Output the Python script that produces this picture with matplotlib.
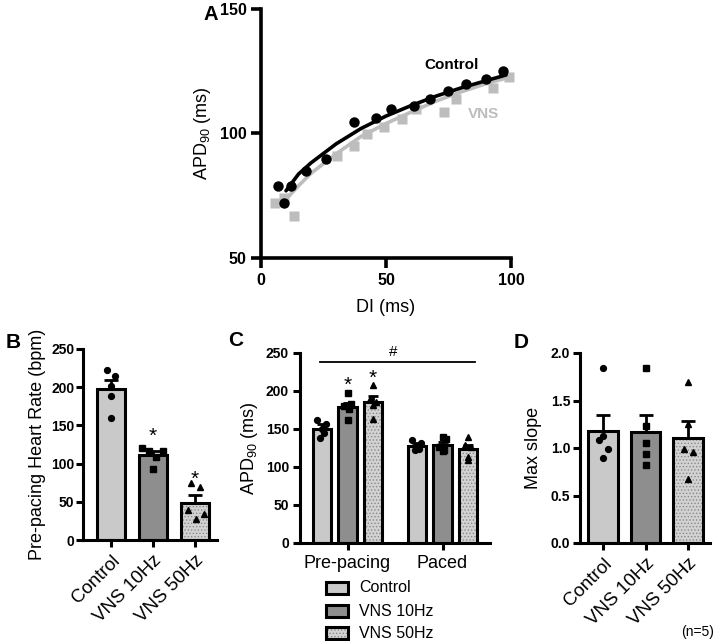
import matplotlib
matplotlib.use("Agg")
import matplotlib.pyplot as plt
from matplotlib.patches import Rectangle
import numpy as np

plt.rcParams['font.family'] = ['Liberation Sans', 'DejaVu Sans']
plt.rcParams['mathtext.fontset'] = 'custom'
plt.rcParams['mathtext.rm'] = 'Liberation Sans'
plt.rcParams['mathtext.it'] = 'Liberation Sans:italic'
plt.rcParams['mathtext.bf'] = 'Liberation Sans:bold'
plt.rcParams['hatch.linewidth'] = 0.6

# ---------------- Data ----------------
# Panel A: restitution
ctrl_di = [6.9, 9.1, 11.9, 18.0, 26.0, 37.1, 45.9, 51.9, 61.1, 67.7, 74.9, 81.9, 89.9, 96.8]
ctrl_apd = [78.8, 72.1, 78.8, 84.9, 89.6, 104.7, 106.1, 110.0, 110.9, 113.9, 116.9, 119.9, 121.9, 124.9]
vns_di = [5.7, 9.1, 13.3, 30.3, 37.1, 42.3, 49.2, 56.2, 62.1, 73.0, 77.9, 92.8, 99.0]
vns_apd = [72.0, 74.1, 66.9, 91.0, 94.9, 99.7, 102.8, 106.0, 109.7, 108.7, 113.7, 118.4, 122.7]
ctrl_fit_di = [10, 15, 20, 30, 40, 50, 60, 70, 80, 90, 98]
ctrl_fit_apd = [77.0, 83.7, 88.2, 95.8, 102.0, 107.0, 111.2, 115.0, 118.3, 121.2, 123.5]
vns_fit_di = [9, 15, 20, 30, 40, 50, 60, 70, 80, 90, 100]
vns_fit_apd = [72.5, 79.0, 84.0, 91.8, 98.8, 104.0, 108.6, 113.0, 116.7, 120.0, 122.8]

groups = ['Control', 'VNS 10Hz', 'VNS 50Hz']

# Panel B: pre-pacing heart rate
hr_mean = [197, 111, 49]
hr_sem = [12, 6, 10]
hr_pts = [[222, 215, 201, 189, 160],
          [120, 117, 117, 109, 93],
          [74, 70, 39, 28, 34]]

# Panel C: APD90
conds = ['Pre-pacing', 'Paced']
apd_mean = [[150, 179, 185.5], [128, 129, 123.5]]
apd_sem = [[6, 5, 8], [3, 4, 5]]
apd_pts = [[[162, 157, 150, 145, 138], [198, 183, 180, 176, 162], [208, 190, 185, 182, 163]],
           [[136, 132, 128, 124, 122], [140, 137, 126, 122, 121], [140, 129, 126, 113, 109]]]

# Panel D: max slope
slope_mean = [1.175, 1.165, 1.105]
slope_sem = [0.175, 0.185, 0.18]
slope_pts = [[1.84, 1.13, 1.08, 0.99, 0.89],
             [1.84, 1.23, 1.05, 0.94, 0.82],
             [1.70, 1.25, 0.99, 0.96, 0.67]]

# ---------------- Style ----------------
c_light = '#c9c9c9'
c_dark = '#8e8e8e'
c_dot_face = '#d2d2d2'
c_dot_hatch = '#8a8a8a'
c_vns = '#bdbdbd'
markers = ['o', 's', '^']

jit_b = [[-0.1, 0.1, 0.0, 0.0, 0.0],
         [-0.27, -0.09, 0.23, 0.07, 0.0],
         [-0.09, 0.12, -0.17, 0.02, 0.21]]
jit_c = [[-0.05, 0.04, 0.0, 0.02, -0.02],
         [0.0, 0.04, -0.04, 0.02, 0.0],
         [0.0, -0.03, 0.03, 0.0, 0.0]]
jit_d = [[0.0, 0.0, -0.1, 0.1, 0.0],
         [0.0, 0.0, 0.0, 0.0, 0.0],
         [0.0, 0.0, -0.09, 0.11, 0.0]]

W, H = 717, 641
fig = plt.figure(figsize=(W / 100, H / 100), dpi=100)


def ax_px(l, t, r, b):
    return fig.add_axes([l / W, 1 - b / H, (r - l) / W, (b - t) / H])


def style(ax, lw=2.2, tl=5, fs=10, ypad=3.5):
    for s in ['top', 'right']:
        ax.spines[s].set_visible(False)
    for s in ['left', 'bottom']:
        ax.spines[s].set_linewidth(lw)
    ax.tick_params(width=lw, length=tl, labelsize=fs, direction='out')
    ax.tick_params(axis='y', pad=ypad)


def draw_bar(ax, x, h, w, kind):
    if kind == 2:
        ax.bar(x, h, w, color=c_dot_face, edgecolor=c_dot_hatch, hatch='.....', linewidth=0, zorder=1)
        ax.bar(x, h, w, color='none', edgecolor='black', linewidth=2.2, zorder=2)
    else:
        ax.bar(x, h, w, color=[c_light, c_dark][kind], edgecolor='black', linewidth=2.2, zorder=2)


def bold_y(ax):
    for lab in ax.get_yticklabels():
        lab.set_fontweight('bold')


# ---------------- Panel A ----------------
axA = ax_px(261, 9, 511, 258)
axA.plot(vns_di, vns_apd, 's', color=c_vns, ms=6.5, mec='none', zorder=2, clip_on=False)
axA.plot(vns_fit_di, vns_fit_apd, '-', color=c_vns, lw=2.6, zorder=3, solid_capstyle='round')
axA.plot(ctrl_fit_di, ctrl_fit_apd, '-', color='black', lw=2.6, zorder=4, solid_capstyle='round')
axA.plot(ctrl_di, ctrl_apd, 'o', color='black', ms=7.5, mec='none', zorder=5, clip_on=False)
axA.set_xlim(0, 100)
axA.set_ylim(50, 150)
style(axA, lw=2.6, tl=7, fs=11.5)
axA.set_xticks([0, 50, 100])
axA.set_xticklabels(['0', '50', '100'], fontweight='bold', fontsize=11.5)
axA.set_yticks([50, 100, 150])
axA.set_yticklabels(['50', '100', '150'], fontweight='bold', fontsize=11.5)
axA.set_xlabel('DI (ms)', fontsize=13, labelpad=8)
axA.set_ylabel(r'APD$_{\mathregular{90}}$ (ms)', fontsize=13, labelpad=5)
axA.text(76.3, 127.7, 'Control', fontsize=11, fontweight='bold', ha='center', va='center')
axA.text(89.0, 108.0, 'VNS', fontsize=11, fontweight='bold', color=c_vns, ha='center', va='center')

# ---------------- Panel B ----------------
axB = ax_px(83, 349, 217, 540)
xb = np.arange(3)
for i in range(3):
    draw_bar(axB, xb[i], hr_mean[i], 0.67, i)
    axB.errorbar(xb[i], hr_mean[i], yerr=[[0], [hr_sem[i]]], color='black', lw=2, capsize=5, capthick=2, zorder=3)
    axB.plot(xb[i] + np.array(jit_b[i]), hr_pts[i], markers[i], color='black', ms=4.2, zorder=4)
axB.set_xlim(-0.67, 2.52)
axB.set_ylim(0, 250)
style(axB, ypad=1.2)
axB.set_yticks([0, 50, 100, 150, 200, 250])
bold_y(axB)
axB.set_xticks(xb)
axB.set_xticklabels(groups, rotation=45, ha='right', rotation_mode='anchor', fontsize=13.5)
axB.set_ylabel('Pre-pacing Heart Rate (bpm)', fontsize=13, labelpad=4)
axB.text(1, 136, '*', fontsize=15, ha='center', va='center')
axB.text(2, 80, '*', fontsize=15, ha='center', va='center')

# ---------------- Panel C ----------------
axC = ax_px(300, 353, 490, 543)
off = [-0.268, 0.0, 0.265]
for g in range(2):
    for i in range(3):
        x = g + off[i]
        draw_bar(axC, x, apd_mean[g][i], 0.19, i)
        axC.errorbar(x, apd_mean[g][i], yerr=[[0], [apd_sem[g][i]]], color='black', lw=2, capsize=3.5, capthick=2, zorder=3)
        axC.plot(x + np.array(jit_c[i]), apd_pts[g][i], markers[i], color='black', ms=4.2, zorder=4)
axC.set_xlim(-0.5, 1.5)
axC.set_ylim(0, 250)
style(axC, ypad=3)
axC.set_yticks([0, 50, 100, 150, 200, 250])
bold_y(axC)
axC.set_xticks([0, 1])
axC.set_xticklabels(conds, fontsize=13)
axC.set_ylabel(r'APD$_{\mathregular{90}}$ (ms)', fontsize=13, labelpad=4)
axC.plot([-0.29, 1.34], [238.5, 238.5], color='black', lw=1.3, clip_on=False)
axC.text(0.48, 251, '#', fontsize=11, ha='center', va='center', clip_on=False)
axC.text(0.0, 207, '*', fontsize=15, ha='center', va='center')
axC.text(0.265, 217, '*', fontsize=15, ha='center', va='center')

# legend (manual)
leg_rows = [588, 611, 633]
for i, yc in enumerate(leg_rows):
    if i == 2:
        r1 = Rectangle((326 / W, 1 - (yc + 6) / H), 22 / W, 12 / H, transform=fig.transFigure,
                       facecolor=c_dot_face, edgecolor=c_dot_hatch, hatch='.....', lw=0)
        fig.add_artist(r1)
        r2 = Rectangle((326 / W, 1 - (yc + 6) / H), 22 / W, 12 / H, transform=fig.transFigure,
                       facecolor='none', edgecolor='black', lw=2.2)
        fig.add_artist(r2)
    else:
        r = Rectangle((326 / W, 1 - (yc + 6) / H), 22 / W, 12 / H, transform=fig.transFigure,
                      facecolor=[c_light, c_dark][i], edgecolor='black', lw=2.2)
        fig.add_artist(r)
    fig.text(359 / W, 1 - yc / H, groups[i], fontsize=11.5, ha='left', va='center')

# ---------------- Panel D ----------------
axD = ax_px(580, 353, 710, 543)
xd = np.arange(3)
for i in range(3):
    draw_bar(axD, xd[i], slope_mean[i], 0.7, i)
    axD.errorbar(xd[i], slope_mean[i], yerr=[[0], [slope_sem[i]]], color='black', lw=2, capsize=5, capthick=2, zorder=3)
    axD.plot(xd[i] + np.array(jit_d[i]), slope_pts[i], markers[i], color='black', ms=4.2, zorder=4)
axD.set_xlim(-0.55, 2.52)
axD.set_ylim(0, 2.0)
style(axD, ypad=2)
axD.set_yticks([0.0, 0.5, 1.0, 1.5, 2.0])
axD.set_yticklabels(['0.0', '0.5', '1.0', '1.5', '2.0'], fontweight='bold')
axD.set_xticks(xd)
axD.set_xticklabels(groups, rotation=45, ha='right', rotation_mode='anchor', fontsize=13.5)
axD.set_ylabel('Max slope', fontsize=13, labelpad=6)
fig.text(698 / W, 1 - 632 / H, '(n=5)', fontsize=10, ha='center', va='center')

# panel letters
fig.text(211 / W, 1 - 15 / H, 'A', fontsize=14.5, fontweight='bold', ha='center', va='center')
fig.text(13 / W, 1 - 343 / H, 'B', fontsize=15, fontweight='bold', ha='center', va='center')
fig.text(236 / W, 1 - 340 / H, 'C', fontsize=15, fontweight='bold', ha='center', va='center')
fig.text(521 / W, 1 - 342 / H, 'D', fontsize=15, fontweight='bold', ha='center', va='center')

fig.savefig('out.png', dpi=100)
